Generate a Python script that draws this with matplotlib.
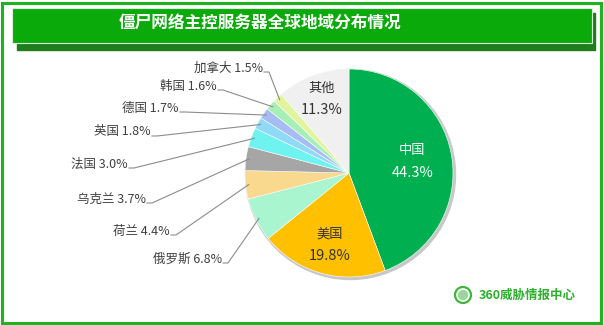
import numpy as np
import matplotlib
matplotlib.use("Agg")
import matplotlib.pyplot as plt
from matplotlib.patches import Rectangle, Circle

plt.rcParams['font.family'] = ['Noto Sans CJK SC', 'DejaVu Sans']

# data (clockwise from 12 o'clock)
countries = ['中国', '美国', '俄罗斯', '荷兰', '乌克兰', '法国', '英国', '德国', '韩国', '加拿大', '其他']
shares = [44.3, 19.8, 6.8, 4.4, 3.7, 3.0, 1.8, 1.7, 1.6, 1.5, 11.3]
colors = ['#00B050', '#FFC000', '#A8F5CF', '#F8D98E', '#A6A6A6', '#6FF3F0',
          '#8FDAF7', '#A6BDF4', '#A6F0B5', '#E2F59E', '#F0F0F0']
title = '僵尸网络主控服务器全球地域分布情况'

W, H = 604, 325
fig = plt.figure(figsize=(W / 100, H / 100), dpi=100)
ax = fig.add_axes([0, 0, 1, 1])

cx, cy, R = 349, H - 173, 104

# soft shadow under pie
ax.add_patch(Circle((cx + 1.5, cy - 1.5), R + 1, color='#C8C8C8', zorder=1))
wedges, _ = ax.pie(shares, colors=colors, startangle=90, counterclock=False,
                   center=(cx, cy), radius=R,
                   wedgeprops=dict(edgecolor='white', linewidth=0.4, zorder=2))

ax.set_xlim(0, W)
ax.set_ylim(0, H)
ax.set_aspect('equal')
ax.axis('off')

# frame and title banner
ax.add_patch(Rectangle((2, 2), W - 5, H - 5, fill=False, edgecolor='#1DB41D', lw=2.2, zorder=0))
ax.add_patch(Rectangle((17, H - 50), 578, 37, color='#1E7E1E', zorder=3))
ax.add_patch(Rectangle((12, H - 43), 580, 35, color='#0BAA0B', zorder=4,
                       ec='#D8F0D8', lw=0.8))
ax.text(260, H - 23, title, color='white', fontsize=12, fontweight='bold',
        ha='center', va='center', zorder=5)

# inside labels
inside = {0: (0.62, 'white'), 1: (0.72, '#333333'), 10: (0.76, '#333333')}
# outside label anchors (right edge x, centre y in picture pixels)
outside = {2: (222, 259), 3: (170, 231), 4: (146, 199), 5: (128, 164),
           6: (151, 132), 7: (179, 108), 8: (217, 86), 9: (263, 68)}

for i, w in enumerate(wedges):
    mid = np.deg2rad((w.theta1 + w.theta2) / 2)
    if i in inside:
        f, c = inside[i]
        x = cx + f * R * np.cos(mid)
        y = cy + f * R * np.sin(mid)
        ax.text(x, y + 11, countries[i], color=c, fontsize=9.5, ha='center', va='center', zorder=6)
        ax.text(x, y - 11, f'{shares[i]:.1f}%', color=c, fontsize=10.5, ha='center', va='center', zorder=6)
    else:
        tx, ty = outside[i]
        ty = H - ty
        ax.text(tx, ty, f'{countries[i]} {shares[i]:.1f}%', color='#404040', fontsize=9,
                ha='right', va='center', zorder=6)
        px = cx + R * 0.97 * np.cos(mid)
        py = cy + R * 0.97 * np.sin(mid)
        ly = ty - 4
        ax.plot([tx + 1, tx + 6, px], [ly, ly, py], color='#8C8C8C', lw=0.8, zorder=7)

# logo
ax.add_patch(Circle((463, H - 295), 8, fill=False, ec='#3DB83D', lw=1.6, zorder=6))
ax.add_patch(Circle((463, H - 295), 4.5, color='#9AD89A', zorder=6))
ax.text(479, H - 295, '360威胁情报中心', color='#2EAF2E', fontsize=9, fontweight='bold',
        ha='left', va='center', zorder=6)

fig.savefig('out.png', dpi=100)
